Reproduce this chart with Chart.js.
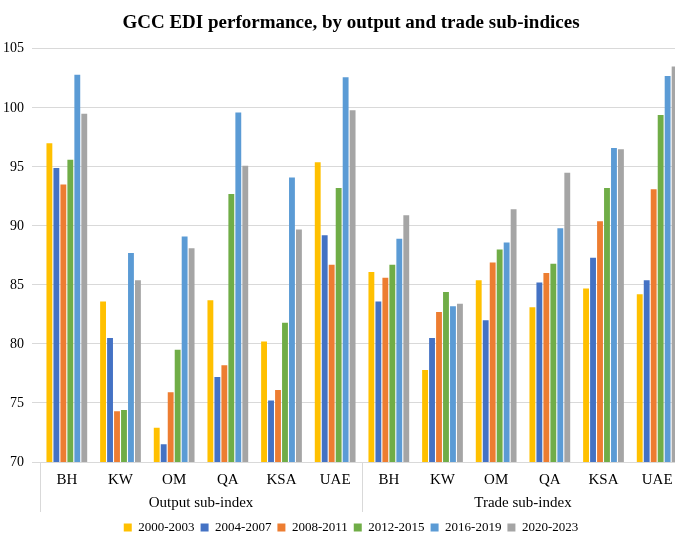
<!DOCTYPE html>
<html>
  <head>
    <meta charset="UTF-8" />
    <title>GCC EDI performance</title>
    <script src="https://cdn.jsdelivr.net/npm/chart.js"></script>
    <style>
      html, body {
        margin: 0;
        padding: 0;
        overflow: hidden;
        background: #fff;
      }
      #wrap {
        width: 702px;
        height: 535px;
      }
    </style>
  </head>
  <body>
    <div id="wrap"><canvas id="myChart"></canvas></div>
    <script>
      const countries = ['BH', 'KW', 'OM', 'QA', 'KSA', 'UAE', 'BH', 'KW', 'OM', 'QA', 'KSA', 'UAE'];
      const groups = ['Output sub-index', 'Trade sub-index'];
      const periods = ['2000-2003', '2004-2007', '2008-2011', '2012-2015', '2016-2019', '2020-2023'];

      // one array per period, output sub-index first, then trade sub-index
      const p2000 = [97.0, 83.6, 72.9, 83.7, 80.2, 95.4, 86.1, 77.8, 85.4, 83.1, 84.7, 84.2];
      const p2004 = [94.9, 80.5, 71.5, 77.2, 75.2, 89.2, 83.6, 80.5, 82.0, 85.2, 87.3, 85.4];
      const p2008 = [93.5, 74.3, 75.9, 78.2, 76.1, 86.7, 85.6, 82.7, 86.9, 86.0, 90.4, 93.1];
      const p2012 = [95.6, 74.4, 79.5, 92.7, 81.8, 93.2, 86.7, 84.4, 88.0, 86.8, 93.2, 99.4];
      const p2016 = [102.8, 87.7, 89.1, 99.6, 94.1, 102.6, 88.9, 83.2, 88.6, 89.8, 96.6, 102.7];
      const p2020 = [99.5, 85.4, 88.1, 95.1, 89.7, 99.8, 90.9, 83.4, 91.4, 94.5, 96.5, 103.5];

      const colors = ['#FFC000', '#4472C4', '#ED7D31', '#70AD47', '#5B9BD5', '#A5A5A5'];
      const series = [p2000, p2004, p2008, p2012, p2016, p2020];

      const serif = '"Liberation Serif", "Times New Roman", serif';

      // group labels and separators under the category labels
      const groupAxis = {
        id: 'groupAxis',
        afterDraw(chart) {
          const { ctx, chartArea, scales } = chart;
          const x = scales.x;
          const bottom = chartArea.bottom;
          const mid = (x.getPixelForValue(5) + x.getPixelForValue(6)) / 2;
          const right = chartArea.right;
          ctx.save();
          ctx.strokeStyle = '#d9d9d9';
          ctx.lineWidth = 1;
          [chartArea.left, mid, right].forEach(px => {
            ctx.beginPath();
            ctx.moveTo(Math.round(px) + 0.5, bottom);
            ctx.lineTo(Math.round(px) + 0.5, bottom + 50);
            ctx.stroke();
          });
          ctx.fillStyle = '#000';
          ctx.font = '15px ' + serif;
          ctx.textAlign = 'center';
          ctx.textBaseline = 'middle';
          ctx.fillText(groups[0], (chartArea.left + mid) / 2, bottom + 41);
          ctx.fillText(groups[1], (mid + right) / 2, bottom + 41);
          ctx.restore();
        }
      };

      const ctx = document.getElementById('myChart').getContext('2d');
      new Chart(ctx, {
        type: 'bar',
        data: {
          labels: countries,
          datasets: periods.map((p, i) => ({
            label: p,
            data: series[i],
            backgroundColor: colors[i],
            borderWidth: 0,
            categoryPercentage: 0.78,
            barPercentage: 0.84
          }))
        },
        options: {
          responsive: true,
          maintainAspectRatio: false,
          animation: { duration: 0 },
          layout: { padding: { left: 0, right: 0, top: 0, bottom: -9 } },
          plugins: {
            title: {
              display: true,
              text: 'GCC EDI performance, by output and trade sub-indices',
              color: '#000',
              font: { family: serif, size: 19, weight: 'bold' },
              padding: { top: 12, bottom: 14 }
            },
            legend: {
              position: 'bottom',
              labels: {
                color: '#000',
                font: { family: serif, size: 13 },
                boxWidth: 8,
                boxHeight: 8,
                padding: 6
              }
            },
            tooltip: { enabled: false }
          },
          scales: {
            x: {
              grid: { display: false },
              border: { display: true, color: '#d9d9d9' },
              ticks: {
                color: '#000',
                font: { family: serif, size: 15 },
                padding: 1,
                maxRotation: 0,
                autoSkip: false
              },
              afterFit(scale) { scale.height = 53; }
            },
            y: {
              min: 70,
              max: 105,
              grid: { color: '#d9d9d9' },
              border: { display: false },
              ticks: {
                stepSize: 5,
                color: '#000',
                font: { family: serif, size: 14 },
                padding: 8
              },
              afterFit(scale) { scale.width = 40; }
            },
            // empty strip on the right, keeps the plot at the reference width
            yRight: {
              position: 'right',
              min: 70,
              max: 105,
              grid: { display: false },
              border: { display: false },
              ticks: { display: false },
              afterFit(scale) { scale.width = 18; }
            }
          }
        },
        plugins: [groupAxis]
      });
    </script>
  </body>
</html>
